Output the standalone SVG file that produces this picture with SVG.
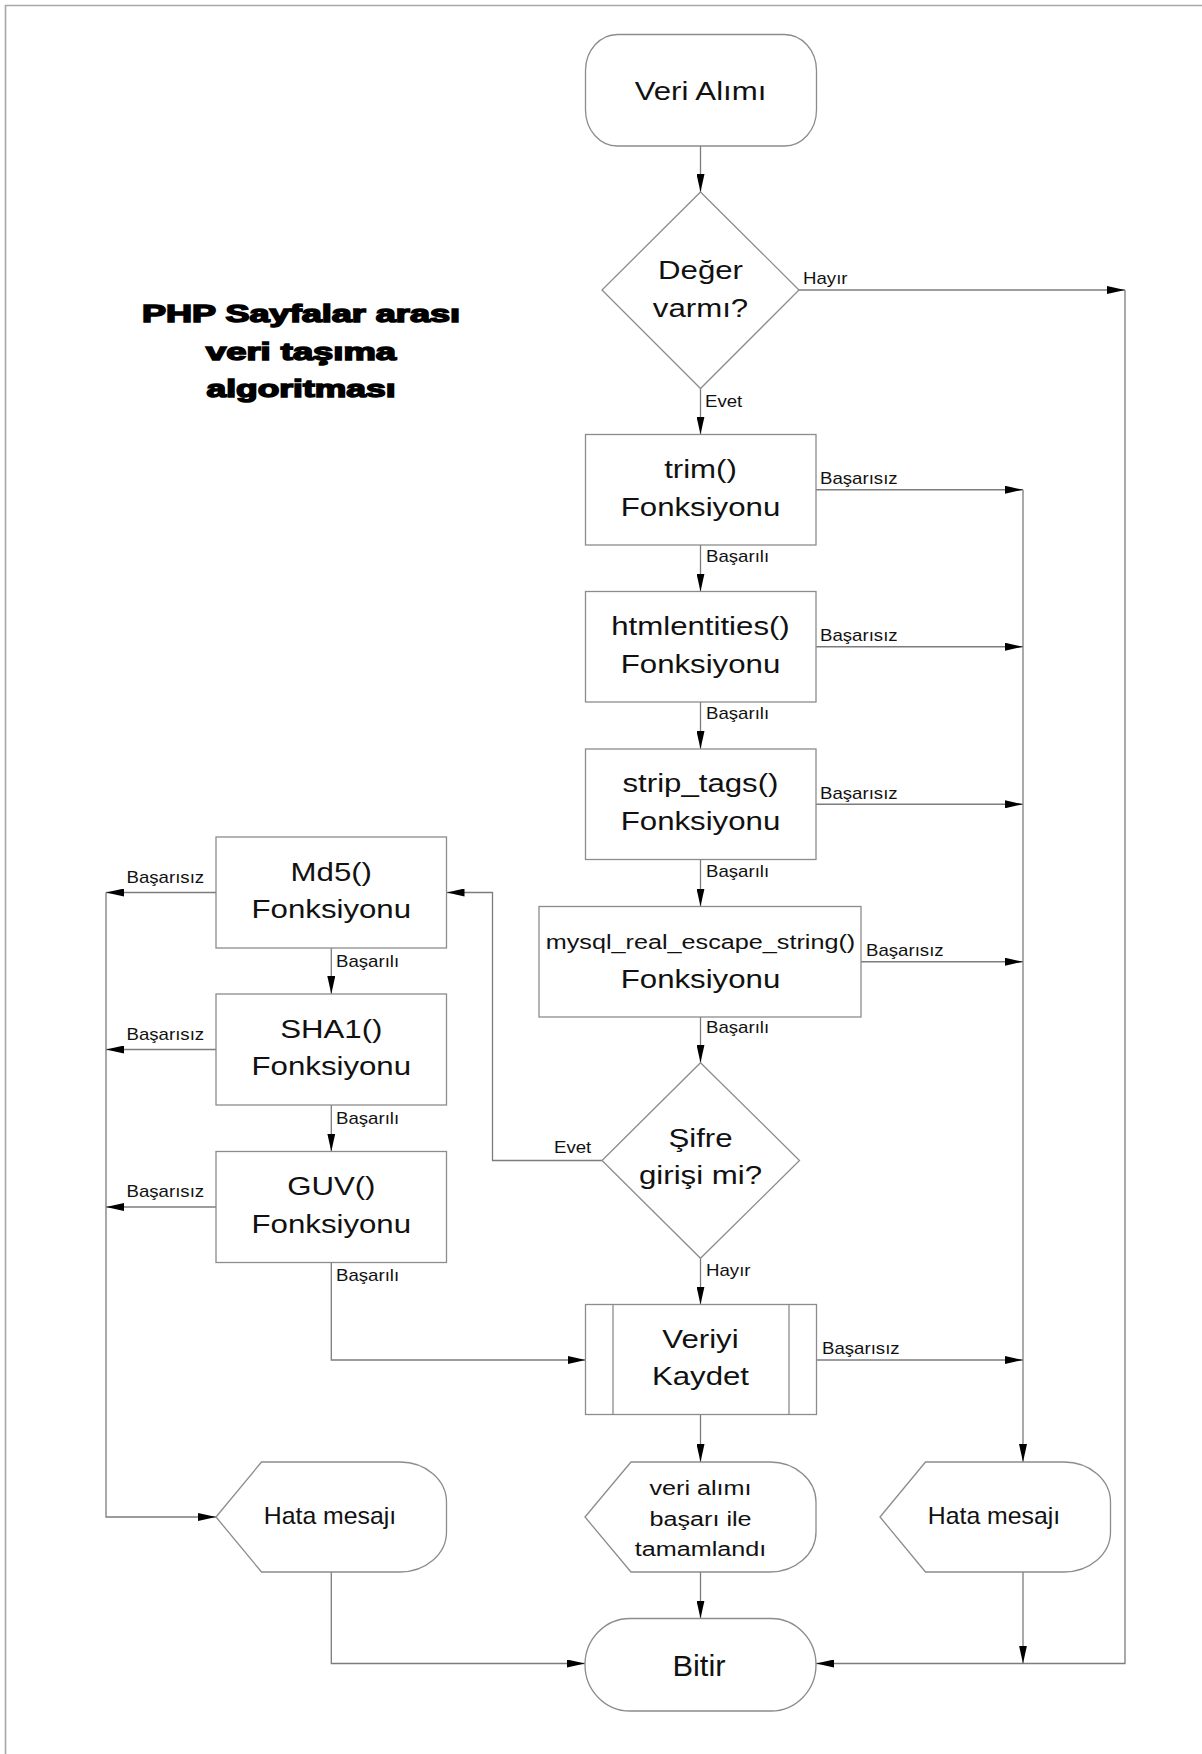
<svg xmlns="http://www.w3.org/2000/svg" width="1202" height="1754" viewBox="0 0 1202 1754">
  <style>
    .shape { fill: #fff; stroke: #8c8c8c; stroke-width: 1.3; }
    .wire { fill: none; stroke: #7c7c7c; stroke-width: 1.3; }
    .arrow { marker-end: url(#ah); }
    text { font-family: "Liberation Sans", Arial, sans-serif; fill: #111; }
    .big { font-size: 26px; text-anchor: middle; }
    .mid { font-size: 21px; text-anchor: middle; }
    .lbl { font-size: 15.8px; text-anchor: start; }
    .title { font-size: 24px; font-weight: bold; text-anchor: middle; stroke: #000; stroke-width: 1.5; fill: #000; }
    .frame { fill: none; stroke: #a8a8a8; stroke-width: 1.6; }
  </style>
  <defs>
    <marker id="ah" markerUnits="userSpaceOnUse" markerWidth="18" markerHeight="8" refX="18" refY="4" orient="auto">
      <path d="M0,0 L18,4 L0,8 Z" fill="#000"/>
    </marker>
  </defs>

  <rect x="0" y="0" width="1202" height="1754" fill="#fff"/>
  <path class="frame" d="M5.5,1754 V5.5 H1202"/>

  <!-- title -->
  <g id="title">
    <text class="title" x="301" y="322" textLength="318" lengthAdjust="spacingAndGlyphs">PHP Sayfalar arası</text>
    <text class="title" x="301" y="359.5" textLength="190" lengthAdjust="spacingAndGlyphs">veri taşıma</text>
    <text class="title" x="301" y="397" textLength="189" lengthAdjust="spacingAndGlyphs">algoritması</text>
  </g>

  <!-- connectors -->
  <g id="connectors">
    <path class="wire arrow" d="M700.5,146 V192"/>
    <path class="wire arrow" d="M700.5,388.5 V434.5"/>
    <path class="wire arrow" d="M799,290 H1125"/>
    <path class="wire arrow" d="M1125,290 V1663.5 H816"/>
    <path class="wire arrow" d="M700.5,545 V591.5"/>
    <path class="wire arrow" d="M700.5,702 V749"/>
    <path class="wire arrow" d="M700.5,859.5 V906.5"/>
    <path class="wire arrow" d="M700.5,1017 V1062.7"/>
    <path class="wire arrow" d="M816,489.75 H1023"/>
    <path class="wire arrow" d="M816,646.75 H1023"/>
    <path class="wire arrow" d="M816,804.25 H1023"/>
    <path class="wire arrow" d="M861,961.75 H1023"/>
    <path class="wire arrow" d="M816.5,1360 H1023"/>
    <path class="wire arrow" d="M1023,489.75 V1462"/>
    <path class="wire arrow" d="M1023,1572 V1663.5"/>
    <path class="wire arrow" d="M602,1160.5 H492.5 V892.5 H446.5"/>
    <path class="wire arrow" d="M700.5,1258.3 V1304.5"/>
    <path class="wire arrow" d="M331.3,948 V994"/>
    <path class="wire arrow" d="M331.3,1105 V1151.5"/>
    <path class="wire arrow" d="M331.3,1262.5 V1360 H585.5"/>
    <path class="wire arrow" d="M216,892.5 H106"/>
    <path class="wire arrow" d="M216,1049.5 H106"/>
    <path class="wire arrow" d="M216,1207 H106"/>
    <path class="wire arrow" d="M106,892.5 V1517 H216"/>
    <path class="wire arrow" d="M331.3,1572 V1663.5 H585"/>
    <path class="wire arrow" d="M700.5,1414.5 V1462"/>
    <path class="wire arrow" d="M700.5,1572 V1618.5"/>

    <text class="lbl" transform="translate(803 284) scale(1.18 1)">Hayır</text>
    <text class="lbl" transform="translate(705 407) scale(1.18 1)">Evet</text>
    <text class="lbl" transform="translate(820 484) scale(1.18 1)">Başarısız</text>
    <text class="lbl" transform="translate(820 641) scale(1.18 1)">Başarısız</text>
    <text class="lbl" transform="translate(820 798.5) scale(1.18 1)">Başarısız</text>
    <text class="lbl" transform="translate(866 956) scale(1.18 1)">Başarısız</text>
    <text class="lbl" transform="translate(822 1354) scale(1.18 1)">Başarısız</text>
    <text class="lbl" transform="translate(706 562) scale(1.18 1)">Başarılı</text>
    <text class="lbl" transform="translate(706 719) scale(1.18 1)">Başarılı</text>
    <text class="lbl" transform="translate(706 876.5) scale(1.18 1)">Başarılı</text>
    <text class="lbl" transform="translate(706 1033) scale(1.18 1)">Başarılı</text>
    <text class="lbl" transform="translate(336 966.5) scale(1.18 1)">Başarılı</text>
    <text class="lbl" transform="translate(336 1123.5) scale(1.18 1)">Başarılı</text>
    <text class="lbl" transform="translate(336 1280.5) scale(1.18 1)">Başarılı</text>
    <text class="lbl" transform="translate(126.5 882.5) scale(1.18 1)">Başarısız</text>
    <text class="lbl" transform="translate(126.5 1039.5) scale(1.18 1)">Başarısız</text>
    <text class="lbl" transform="translate(126.5 1197) scale(1.18 1)">Başarısız</text>
    <text class="lbl" transform="translate(554 1153) scale(1.18 1)">Evet</text>
    <text class="lbl" transform="translate(706 1276) scale(1.18 1)">Hayır</text>
  </g>

  <!-- main column -->
  <g id="start">
    <rect class="shape" x="585.5" y="34.5" width="231" height="111.5" rx="32" ry="36"/>
    <text class="big" transform="translate(700.5 99.5) scale(1.2 1)">Veri Alımı</text>
  </g>

  <g id="check-value">
    <polygon class="shape" points="700.5,192 799,290 700.5,388.5 602,290"/>
    <text class="big" transform="translate(700.5 289) scale(1.2 1)"><tspan x="0" y="-10">Değer</tspan><tspan x="0" y="28">varmı?</tspan></text>
  </g>

  <g id="trim">
    <rect class="shape" x="585.5" y="434.5" width="230.5" height="110.5"/>
    <text class="big" transform="translate(700.5 487.75) scale(1.2 1)"><tspan x="0" y="-10">trim()</tspan><tspan x="0" y="28">Fonksiyonu</tspan></text>
  </g>

  <g id="htmlentities">
    <rect class="shape" x="585.5" y="591.5" width="230.5" height="110.5"/>
    <text class="big" transform="translate(700.5 644.75) scale(1.2 1)"><tspan x="0" y="-10">htmlentities()</tspan><tspan x="0" y="28">Fonksiyonu</tspan></text>
  </g>

  <g id="strip-tags">
    <rect class="shape" x="585.5" y="749" width="230.5" height="110.5"/>
    <text class="big" transform="translate(700.5 802.25) scale(1.2 1)"><tspan x="0" y="-10">strip_tags()</tspan><tspan x="0" y="28">Fonksiyonu</tspan></text>
  </g>

  <g id="mysql-escape">
    <rect class="shape" x="539" y="906.5" width="322" height="110.5"/>
    <text class="mid" transform="translate(700.5 948.5) scale(1.2 1)">mysql_real_escape_string()</text>
    <text class="big" transform="translate(700.5 987.75) scale(1.2 1)">Fonksiyonu</text>
  </g>

  <g id="check-password">
    <polygon class="shape" points="700.5,1062.7 799.5,1160.5 700.5,1258.3 602,1160.5"/>
    <text class="big" transform="translate(700.5 1158) scale(1.2 1)"><tspan x="0" y="-11">Şifre</tspan><tspan x="0" y="26.5">girişi mi?</tspan></text>
  </g>

  <g id="save">
    <rect class="shape" x="585.5" y="1304.5" width="231" height="110"/>
    <path class="shape" d="M613,1304.5 V1414.5 M789,1304.5 V1414.5"/>
    <text class="big" transform="translate(700.5 1357.5) scale(1.2 1)"><tspan x="0" y="-10">Veriyi</tspan><tspan x="0" y="28">Kaydet</tspan></text>
  </g>

  <g id="done-message">
    <path class="shape" d="M585,1517 L631,1462 L770,1462 A46,40 0 0 1 816,1502 L816,1532 A46,40 0 0 1 770,1572 L631,1572 Z"/>
    <text class="mid" transform="translate(700.5 1495) scale(1.2 1)"><tspan x="0" y="0">veri alımı</tspan><tspan x="0" y="30.7">başarı ile</tspan><tspan x="0" y="61.3">tamamlandı</tspan></text>
  </g>

  <g id="end">
    <path class="shape" d="M630,1618.5 L771,1618.5 A45,46.25 0 0 1 771,1711 L630,1711 A45,46.25 0 0 1 630,1618.5 Z"/>
    <text class="big" style="font-size:30px" transform="translate(699 1675.5) scale(1.03 1)">Bitir</text>
  </g>

  <!-- hashing column -->
  <g id="md5">
    <rect class="shape" x="216" y="837" width="230.5" height="111"/>
    <text class="big" transform="translate(331.3 890.5) scale(1.2 1)"><tspan x="0" y="-10">Md5()</tspan><tspan x="0" y="28">Fonksiyonu</tspan></text>
  </g>

  <g id="sha1">
    <rect class="shape" x="216" y="994" width="230.5" height="111"/>
    <text class="big" transform="translate(331.3 1047.5) scale(1.2 1)"><tspan x="0" y="-10">SHA1()</tspan><tspan x="0" y="28">Fonksiyonu</tspan></text>
  </g>

  <g id="guv">
    <rect class="shape" x="216" y="1151.5" width="230.5" height="111"/>
    <text class="big" transform="translate(331.3 1205) scale(1.2 1)"><tspan x="0" y="-10">GUV()</tspan><tspan x="0" y="28">Fonksiyonu</tspan></text>
  </g>

  <!-- error messages -->
  <g id="error-left">
    <path class="shape" d="M216,1517 L261.5,1462 L400,1462 A46.5,40 0 0 1 446.5,1502 L446.5,1532 A46.5,40 0 0 1 400,1572 L261.5,1572 Z"/>
    <text class="big" style="font-size:23px" transform="translate(330 1523.5) scale(1.08 1)">Hata mesajı</text>
  </g>

  <g id="error-right">
    <path class="shape" d="M880,1517 L925.5,1462 L1064,1462 A46.5,40 0 0 1 1110.5,1502 L1110.5,1532 A46.5,40 0 0 1 1064,1572 L925.5,1572 Z"/>
    <text class="big" style="font-size:23px" transform="translate(994 1523.5) scale(1.08 1)">Hata mesajı</text>
  </g>
</svg>
